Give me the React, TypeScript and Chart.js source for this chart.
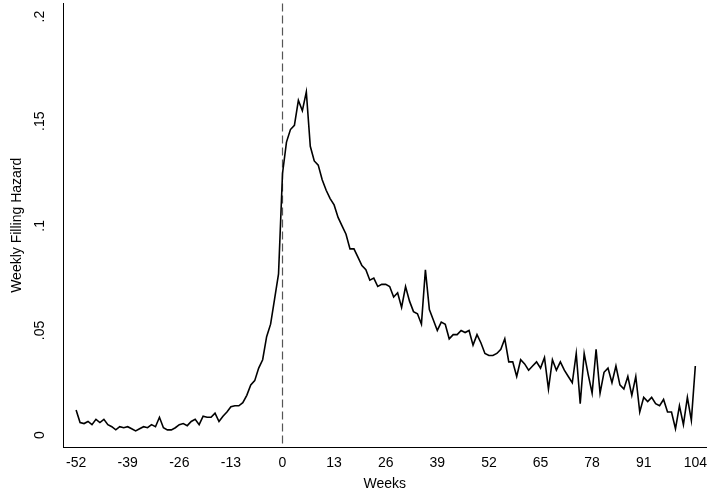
import React, { useEffect, useRef } from "react";
import Chart from "chart.js/auto";

const weeks: number[] = [];
for (let w = -52; w <= 104; w++) weeks.push(w);

const preValues = [
  0.012, 0.006, 0.0055, 0.0065, 0.005, 0.0075, 0.006, 0.0075, 0.005, 0.004,
  0.0025, 0.004, 0.0035, 0.004, 0.003, 0.002, 0.003, 0.004, 0.0035, 0.005,
  0.004, 0.0085, 0.0035, 0.0025, 0.0025, 0.0035, 0.005, 0.0055, 0.0045, 0.0065,
  0.0075, 0.005, 0.009, 0.0085, 0.0085, 0.0105, 0.0065, 0.009, 0.011, 0.0135,
  0.014, 0.014, 0.0155, 0.019, 0.024, 0.026, 0.032, 0.036, 0.047, 0.053,
  0.065, 0.077,
];
const postValues = [
  0.125, 0.14, 0.146, 0.148, 0.16, 0.155, 0.164, 0.138, 0.131, 0.129,
  0.122, 0.117, 0.113, 0.11, 0.104, 0.1, 0.096, 0.089, 0.089, 0.085,
  0.081, 0.079, 0.074, 0.075, 0.071, 0.072, 0.072, 0.071, 0.066, 0.068,
  0.061, 0.071, 0.064, 0.059, 0.058, 0.053, 0.079, 0.06, 0.055, 0.05,
  0.054, 0.053, 0.046, 0.048, 0.048, 0.05, 0.049, 0.05, 0.043, 0.048,
  0.044, 0.039, 0.038, 0.038, 0.039, 0.041, 0.046, 0.035, 0.035, 0.028,
  0.036, 0.034, 0.031, 0.033, 0.035, 0.032, 0.037, 0.022, 0.036, 0.031,
  0.035, 0.031, 0.028, 0.025, 0.039, 0.015, 0.039, 0.029, 0.02, 0.041,
  0.02, 0.03, 0.032, 0.025, 0.033, 0.024, 0.022, 0.028, 0.019, 0.028,
  0.011, 0.018, 0.016, 0.018, 0.015, 0.014, 0.017, 0.011, 0.011, 0.003,
  0.014, 0.005, 0.018, 0.007, 0.033,
];
const hazard = [...preValues, ...postValues];

const xTicks = [-52, -39, -26, -13, 0, 13, 26, 39, 52, 65, 78, 91, 104];
const yTicks = [0, 0.05, 0.1, 0.15, 0.2];
const yTickLabels = ["0", ".05", ".1", ".15", ".2"];

const FONT = "Liberation Sans, Arial, sans-serif";

const App = () => {
  const canvasRef = useRef<HTMLCanvasElement>(null);

  useEffect(() => {
    document.body.style.margin = "0";
    if (!canvasRef.current) return;

    // dashed line at week 0 and rotated y tick labels
    const overlay = {
      id: "overlay",
      beforeDatasetsDraw(chart: any) {
        const { ctx, scales, chartArea } = chart;
        const x = scales.x.getPixelForValue(0);
        ctx.save();
        ctx.strokeStyle = "#555";
        ctx.lineWidth = 1.2;
        ctx.setLineDash([8, 4]);
        ctx.beginPath();
        ctx.moveTo(x, chartArea.top);
        ctx.lineTo(x, chartArea.bottom);
        ctx.stroke();
        ctx.restore();
      },
      afterDraw(chart: any) {
        const { ctx, scales } = chart;
        ctx.save();
        ctx.fillStyle = "#000";
        ctx.font = `14px ${FONT}`;
        ctx.textAlign = "center";
        ctx.textBaseline = "bottom";
        yTicks.forEach((v, i) => {
          const y = scales.y.getPixelForValue(v);
          ctx.save();
          ctx.translate(47, y);
          ctx.rotate(-Math.PI / 2);
          ctx.fillText(yTickLabels[i], 0, 0);
          ctx.restore();
        });
        ctx.restore();
      },
    };

    const chart = new Chart(canvasRef.current, {
      type: "line",
      data: {
        labels: weeks,
        datasets: [
          {
            data: weeks.map((w, i) => ({ x: w, y: hazard[i] })),
            borderColor: "#000",
            borderWidth: 1.6,
            pointRadius: 0,
            tension: 0,
          },
        ],
      },
      options: {
        animation: false,
        responsive: false,
        layout: { padding: { top: 0, right: 0, left: 9, bottom: 0 } },
        plugins: { legend: { display: false }, tooltip: { enabled: false } },
        scales: {
          x: {
            type: "linear",
            min: -55.3,
            max: 106.8,
            afterBuildTicks: (s: any) => {
              s.ticks = xTicks.map((v) => ({ value: v }));
            },
            afterFit: (s: any) => {
              s.height = 49;
            },
            grid: { display: false, drawTicks: true, tickLength: 6, tickColor: "#000" },
            border: { display: true, color: "#000", width: 1 },
            ticks: {
              color: "#000",
              font: { family: FONT, size: 14 },
              maxRotation: 0,
              autoSkip: false,
              padding: 2,
            },
            title: {
              display: true,
              text: "Weeks",
              color: "#000",
              font: { family: FONT, size: 14 },
              padding: { top: 0, bottom: 3 },
            },
          },
          y: {
            min: -0.0057,
            max: 0.2062,
            afterBuildTicks: (s: any) => {
              s.ticks = yTicks.map((v) => ({ value: v }));
            },
            afterFit: (s: any) => {
              s.width = 54;
            },
            grid: { display: false, drawTicks: true, tickLength: 6, tickColor: "#000" },
            border: { display: true, color: "#000", width: 1 },
            ticks: { display: true, color: "rgba(0,0,0,0)", font: { size: 1 } },
            title: {
              display: true,
              text: "Weekly Filling Hazard",
              color: "#000",
              font: { family: FONT, size: 14 },
              padding: { top: 0, bottom: 0 },
            },
          },
        },
      } as any,
      plugins: [overlay],
    });

    return () => chart.destroy();
  }, []);

  return <canvas ref={canvasRef} width={709} height={496} style={{ display: "block" }} />;
};

export default App;
